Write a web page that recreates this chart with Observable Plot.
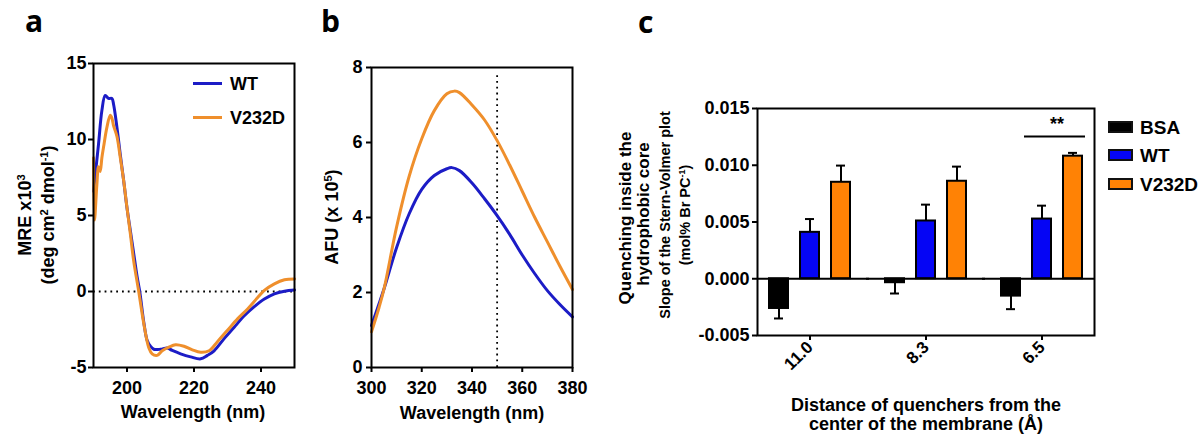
<!DOCTYPE html>
<html><head><meta charset="utf-8">
<script src="https://cdn.jsdelivr.net/npm/d3@7"></script>
<script src="https://cdn.jsdelivr.net/npm/@observablehq/plot@0.6"></script>
<style>
body{margin:0;background:#fff;}
#root{position:relative;width:1203px;height:435px;overflow:hidden;background:#fff;font-family:"Liberation Sans",Arial,sans-serif;font-weight:bold;color:#000;}
.panel{position:absolute;top:0;}
.t{position:absolute;white-space:nowrap;line-height:1;}
.rot{transform:translate(-50%,-50%) rotate(-90deg);}
.ctr{transform:translate(-50%,-50%);}
.lft{transform:translate(0,-50%);}
sup{font-size:0.62em;line-height:0;vertical-align:0.55em;}
.letter{font-family:"Open Sans",sans-serif;font-weight:700;font-size:30px;line-height:1.4;}
.sw{position:absolute;box-sizing:border-box;}
</style></head>
<body><div id="root"></div>
<script>
// ---------- Panel a: CD spectra ----------
const cdWtNm  = [190,191.5,192.5,193.5,194.5,195.5,196,197,198,199,200,201,202,203,203.8,205,206,207,208,210,212,213.5,216,219,222,224,226,229,232,235,238,241,244,247,250];
const cdWtMre = [6.6,9.7,11.9,12.9,12.7,12.7,12.3,10.8,9.0,7.3,5.5,4.0,2.5,1.0,0,-2.0,-3.2,-3.6,-3.8,-3.8,-3.72,-3.88,-4.1,-4.3,-4.43,-4.2,-3.9,-3.1,-2.35,-1.6,-1.0,-0.5,-0.15,0.02,0.1];
const cdMutNm  = [190,190.3,191,191.5,192,192.5,193,194,195,195.5,196,197,198,199,200,201,202,203.5,205,206.5,207.5,209,210.5,212.5,214.5,217,219.5,222,224.5,227,230,233,236,239,241,244,247,250];
const cdMutMre = [8.8,4.7,7.0,8.2,7.9,8.8,9.5,10.8,11.6,11.4,10.9,10.2,8.8,7.3,5.5,3.8,2.0,0,-2.1,-3.7,-4.1,-4.2,-3.9,-3.66,-3.5,-3.6,-3.84,-4.0,-3.9,-3.3,-2.55,-1.8,-1.15,-0.4,0.07,0.5,0.77,0.83];
const aXTicks = [200,220,240];
const aYTicks = [-5,0,5,10,15];

// ---------- Panel b: fluorescence spectra ----------
const flWtNm  = [300,303,305,310,315,320,325,330,332,335,340,345,350,355,360,365,370,375,380];
const flWtAfu = [1.12,1.7,2.1,3.2,4.1,4.75,5.12,5.3,5.33,5.25,4.92,4.5,4.05,3.55,3.0,2.5,2.05,1.68,1.35];
const flMutNm  = [300,303,305,310,315,320,325,330,333,335,340,345,350,355,360,365,370,375,380];
const flMutAfu = [0.95,1.6,2.1,3.75,5.1,6.1,6.85,7.3,7.37,7.33,7.0,6.6,6.05,5.4,4.7,4.0,3.35,2.7,2.08];
const bXTicks = [300,320,340,360,380];
const bYTicks = [0,2,4,6,8];
const bMarker = [{nm: 350, top: 7.85}];

// ---------- Panel c: quenching bars ----------
const distances = ["11.0","8.3","6.5"];
const samples = ["BSA","WT","V232D"];
const bsaMean = [-0.00262,-0.00035,-0.00153];
const bsaErr  = [0.00088,0.00095,0.00115];
const wtMean  = [0.00409,0.00509,0.00526];
const wtErr   = [0.00117,0.00144,0.00118];
const mutMean = [0.0085,0.00859,0.0108];
const mutErr  = [0.00147,0.00129,0.00029];
const cYTicks = [-0.005,0,0.005,0.010,0.015];
const significance = [{dist: "6.5", from: "WT", to: "V232D", y: 0.01253, label: "**"}];

const lineBlue = "#1c1cc6", lineOrange = "#ef8f2c";
const barColors = ["#000000","#0505f5","#ff8205"];

const root = document.getElementById("root");
const font = {fontFamily: '"Liberation Sans", Arial, sans-serif', fontSize: "18px", fontWeight: "bold", background: "transparent", overflow: "visible"};

function place(svg, left, width) {
  const d = document.createElement("div");
  d.className = "panel";
  d.style.left = left + "px";
  d.style.width = width + "px";
  d.appendChild(svg);
  root.appendChild(d);
}
function txt(html, x, y, cls, size) {
  const d = document.createElement("div");
  d.className = "t " + cls;
  d.innerHTML = html;
  d.style.left = x + "px";
  d.style.top = y + "px";
  if (size) d.style.fontSize = size + "px";
  root.appendChild(d);
  return d;
}
function swatch(x, y, w, h, bg, border) {
  const d = document.createElement("div");
  d.className = "sw";
  d.style.left = x + "px"; d.style.top = y + "px";
  d.style.width = w + "px"; d.style.height = h + "px";
  d.style.background = bg;
  if (border) d.style.border = border;
  root.appendChild(d);
}

// Panel a
const cdWT = cdWtNm.map((nm, i) => ({nm, v: cdWtMre[i]}));
const cdMut = cdMutNm.map((nm, i) => ({nm, v: cdMutMre[i]}));
place(Plot.plot({
  width: 300, height: 435, marginLeft: 93, marginRight: 6, marginTop: 63, marginBottom: 68,
  style: font,
  x: {domain: [190, 250]},
  y: {domain: [-5, 15]},
  marks: [
    Plot.ruleY([0], {stroke: "black", strokeWidth: 1.8, strokeDasharray: "1.8,4"}),
    Plot.line(cdWT, {x: "nm", y: "v", stroke: lineBlue, strokeWidth: 3, curve: "catmull-rom"}),
    Plot.line(cdMut, {x: "nm", y: "v", stroke: lineOrange, strokeWidth: 3, curve: "catmull-rom"}),
    Plot.frame({stroke: "black", strokeWidth: 2}),
    Plot.axisX({ticks: aXTicks, tickSize: 5, tickPadding: 9, tickFormat: d => String(d), label: null, strokeWidth: 2}),
    Plot.axisY({ticks: aYTicks, tickSize: 5, tickPadding: 2, tickFormat: d => String(d), label: null, strokeWidth: 2})
  ]
}), 0, 300);

// Panel b
const flWT = flWtNm.map((nm, i) => ({nm, v: flWtAfu[i]}));
const flMut = flMutNm.map((nm, i) => ({nm, v: flMutAfu[i]}));
place(Plot.plot({
  width: 300, height: 435, marginLeft: 71, marginRight: 28, marginTop: 67, marginBottom: 68,
  style: font,
  x: {domain: [300, 380]},
  y: {domain: [0, 8]},
  marks: [
    Plot.ruleX(bMarker, {x: "nm", y1: 0, y2: "top", stroke: "black", strokeWidth: 1.8, strokeDasharray: "1.8,4"}),
    Plot.line(flWT, {x: "nm", y: "v", stroke: lineBlue, strokeWidth: 3, curve: "catmull-rom"}),
    Plot.line(flMut, {x: "nm", y: "v", stroke: lineOrange, strokeWidth: 3, curve: "catmull-rom"}),
    Plot.frame({stroke: "black", strokeWidth: 2}),
    Plot.axisX({ticks: bXTicks, tickSize: 5, tickPadding: 9, tickFormat: d => String(d), label: null, strokeWidth: 2}),
    Plot.axisY({ticks: bYTicks, tickSize: 5, tickPadding: 4, tickFormat: d => String(d), label: null, strokeWidth: 2})
  ]
}), 300, 300);

// Panel c
const means = [bsaMean, wtMean, mutMean], errs = [bsaErr, wtErr, mutErr];
const barRows = distances.flatMap((dist, i) => samples.map((sample, j) => ({
  dist, sample, mean: means[j][i], tip: means[j][i] + Math.sign(means[j][i]) * errs[j][i]
})));
// zero baseline, one segment per facet, widened to bridge the gaps between facets
const zeroInsets = [[0, -7], [-7, -7], [-7, 0]];
const zeroMarks = distances.map((dist, i) => Plot.ruleY([{dist, y: 0}], {
  fx: "dist", y: "y", stroke: "black", strokeWidth: 2, insetLeft: zeroInsets[i][0], insetRight: zeroInsets[i][1]
}));
place(Plot.plot({
  width: 603, height: 435, marginLeft: 156, marginRight: 107, marginTop: 108, marginBottom: 100,
  style: font,
  fx: {domain: distances, paddingInner: 0.094, paddingOuter: 0, label: null},
  x: {domain: samples, paddingInner: 0.375, paddingOuter: 0.344, axis: null},
  y: {domain: [-0.005, 0.015]},
  color: {domain: samples, range: barColors},
  marks: [
    Plot.ruleX(barRows, {fx: "dist", x: "sample", y1: "mean", y2: "tip", stroke: "black", strokeWidth: 2}),
    Plot.tickY(barRows, {fx: "dist", x: "sample", y: "tip", stroke: "black", strokeWidth: 2, insetLeft: 5, insetRight: 5}),
    Plot.barY(barRows, {fx: "dist", x: "sample", y: "mean", fill: "sample", stroke: "black", strokeWidth: 2}),
    ...zeroMarks,
    Plot.ruleY(significance, {fx: "dist", y: "y", x1: "from", x2: "to", stroke: "black", strokeWidth: 2, insetLeft: -8, insetRight: -3}),
    Plot.text(significance, {fx: "dist", x: "to", y: "y", text: "label", dx: -16, dy: -12, fontSize: 18}),
    Plot.frame({facet: "super", stroke: "black", strokeWidth: 2}),
    Plot.axisFx({anchor: "bottom", tickSize: 5, tickPadding: 4, tickRotate: -45, fontSize: 17, label: null, strokeWidth: 2}),
    Plot.axisY({ticks: cYTicks, tickFormat: d => d.toFixed(3), tickSize: 5, tickPadding: 3, label: null, strokeWidth: 2})
  ]
}), 600, 603);

// Texts
txt("a", 25, 0, "letter");
txt("b", 321, 0, "letter");
txt("c", 638, 1, "letter");

txt("MRE x10<sup>3</sup>", 25, 215, "rot", 18);
txt("(deg cm<sup>2</sup> dmol<sup>-1</sup>)", 48, 215, "rot", 18);
txt("Wavelength (nm)", 193, 412, "ctr", 18);

txt("AFU (x 10<sup>5</sup>)", 332, 217, "rot", 18);
txt("Wavelength (nm)", 472, 413, "ctr", 18);

txt("Quenching inside the", 625, 218, "rot", 17);
txt("hydrophobic core", 643, 214, "rot", 17);
txt("Slope of the Stern-Volmer plot", 665, 215, "rot", 14.5);
txt("(mol% Br PC<sup>-1</sup>)", 685, 215, "rot", 14.5);
txt("Distance of quenchers from the", 926, 405, "ctr", 18);
txt("center of the membrane (Å)", 926, 424, "ctr", 18);

// Legend a
swatch(193, 82, 29, 3, lineBlue);
swatch(193, 116, 29, 3, lineOrange);
txt("WT", 230, 84, "lft", 18);
txt("V232D", 230, 118, "lft", 18);

// Legend c
const legY = [127, 155, 184];
samples.forEach((s, i) => {
  swatch(1108, legY[i] - 6, 25, 12, barColors[i], "2px solid #111");
  txt(s, 1140, legY[i], "lft", 19);
});
</script>
</body></html>
